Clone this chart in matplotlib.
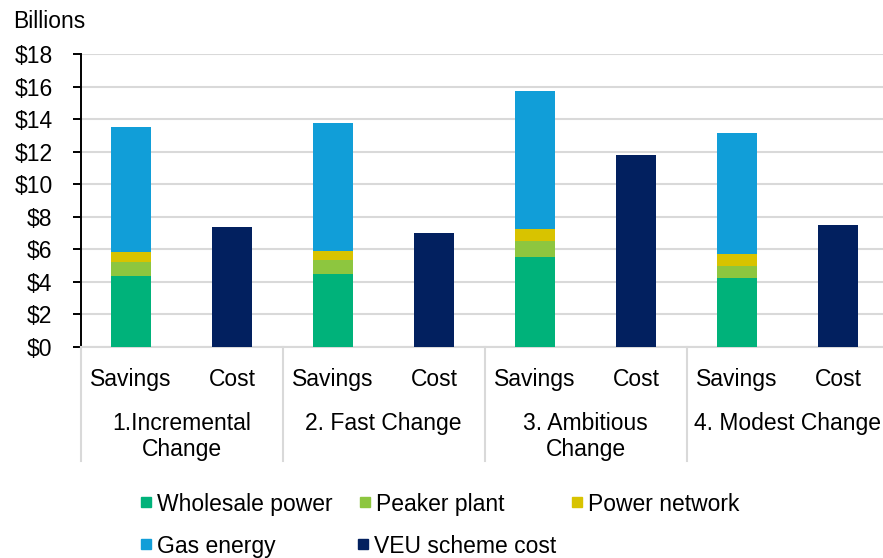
import matplotlib
matplotlib.use("Agg")
import matplotlib.pyplot as plt
import matplotlib.transforms as mtransforms
from matplotlib.patches import Rectangle

plt.rcParams['font.family'] = ['Liberation Sans', 'DejaVu Sans']
FS = 16.5

# ---------------- data ----------------
scenarios = ["1.Incremental\nChange", "2. Fast Change", "3. Ambitious\nChange", "4. Modest Change"]
bar_types = ["Savings", "Cost"]
wholesale_power = [4.33, 4.45, 5.55, 4.20]
peaker_plant = [0.86, 0.86, 0.98, 0.74]
power_network = [0.61, 0.61, 0.74, 0.74]
gas_energy = [7.71, 7.84, 8.45, 7.47]
veu_scheme_cost = [7.39, 7.03, 11.79, 7.51]
y_ticks = [0, 2, 4, 6, 8, 10, 12, 14, 16, 18]
y_unit = "Billions"

series_names = ["Wholesale power", "Peaker plant", "Power network", "Gas energy", "VEU scheme cost"]
colors = ["#00B27A", "#8DC63F", "#D8C300", "#119ED8", "#02205F"]

# ---------------- figure ----------------
W, H = 883, 558
fig = plt.figure(figsize=(W / 100, H / 100), dpi=100)
x0, x1, y0, y1 = 80.7, 888.7, 346.7, 54.3
ax = fig.add_axes([x0 / W, 1 - y0 / H, (x1 - x0) / W, (y0 - y1) / H])

n = len(scenarios)
sav_x = [2 * i for i in range(n)]
cost_x = [2 * i + 1 for i in range(n)]
bw = 0.4

bottom = [0.0] * n
for vals, col in zip([wholesale_power, peaker_plant, power_network, gas_energy], colors[:4]):
    ax.bar(sav_x, vals, bw, bottom=bottom, color=col, zorder=3, linewidth=0)
    bottom = [b + v for b, v in zip(bottom, vals)]
ax.bar(cost_x, veu_scheme_cost, bw, color=colors[4], zorder=3, linewidth=0)

ax.set_xlim(-0.5, 2 * n - 0.5)
ax.set_ylim(0, 18)
ax.set_yticks(y_ticks)
ax.set_yticklabels([f"${v}" for v in y_ticks], fontsize=FS)
ax.yaxis.grid(True, color="#D9D9D9", linewidth=1.5)
ax.set_axisbelow(True)

ax.set_xticks(range(2 * n))
ax.set_xticklabels(bar_types * n, fontsize=FS)
ax.tick_params(axis='x', length=0, pad=15.0)
ax.tick_params(axis='y', length=5.8, width=1.4, direction='out', pad=14.5, color='black')

for s in ['top', 'right']:
    ax.spines[s].set_visible(False)
ax.spines['left'].set_color('black')
ax.spines['left'].set_linewidth(1.4)
ax.spines['bottom'].set_color('#D9D9D9')
ax.spines['bottom'].set_linewidth(1.5)

trans = mtransforms.blended_transform_factory(ax.transData, ax.transAxes)
for i, lab in enumerate(scenarios):
    ax.text(2 * i + 0.5, -0.2223, lab, transform=trans, ha='center', va='top',
            fontsize=FS, linespacing=1.17)
for i in range(n + 1):
    xs = 2 * i - 0.5
    ax.plot([xs, xs], [0, -0.39], transform=trans, color='#D9D9D9', lw=1.5,
            clip_on=False, zorder=1)

fig.text(12.7 / W, 1 - 28.3 / H, y_unit, fontsize=FS, ha='left', va='baseline')

# ---------------- legend (manual, Excel-like layout) ----------------
leg_pos = [(141, 502), (360, 502), (572, 502), (141, 544), (358, 544)]
sq = 10
for name, col, (lx, ly) in zip(series_names, colors, leg_pos):
    fig.patches.append(Rectangle(((lx) / W, 1 - (ly + sq / 2) / H), sq / W, sq / H,
                                 transform=fig.transFigure, color=col))
    fig.text((lx + 16) / W, 1 - ly / H, name, fontsize=FS, ha='left', va='center_baseline')

fig.savefig("out.png", dpi=100)
